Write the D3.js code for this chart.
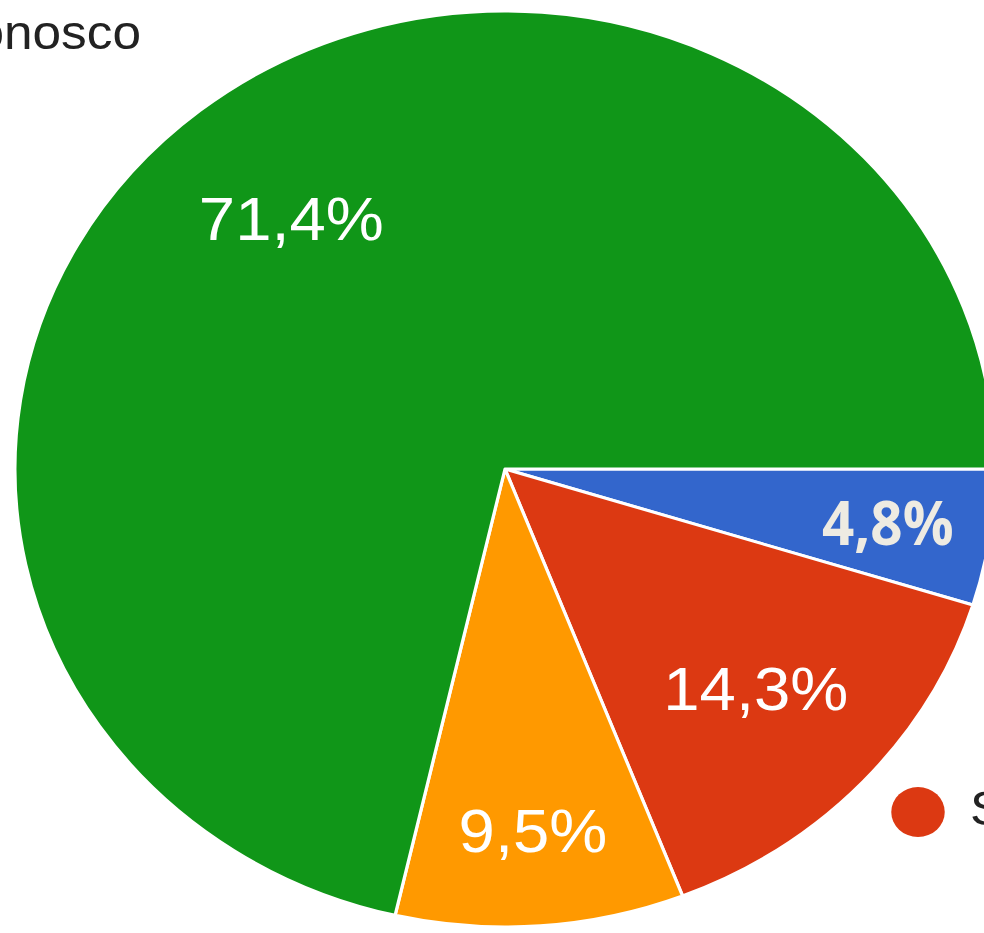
<!DOCTYPE html>
<html>
<head>
<meta charset="utf-8">
<script src="https://cdn.jsdelivr.net/npm/d3@7"></script>
<style>
  html, body { margin: 0; padding: 0; background: #fff; overflow: hidden; }
  svg { display: block; }
</style>
</head>
<body>
<svg id="chart" width="984" height="933"></svg>
<script>
// slice order follows the picture, clockwise from 3 o'clock
const categories = ['No', 'Sì', 'In parte', 'Non conosco'];
const percents = [4.8, 14.3, 9.5, 71.4];
const sliceLabels = ['4,8%', '14,3%', '9,5%', '71,4%'];
const colors = ['#3366cc', '#dc3912', '#ff9900', '#109618'];

const W = 984, H = 933;
const sx = 1.07;            // the picture is stretched a little sideways
const cx = 505, cy = 469, R = 458;

let svg = d3.select('#chart');

let color = d3.scaleOrdinal().domain(categories).range(colors);

let pie = d3.pie()
    .sort(null)
    .value(d => d.value)
    .startAngle(Math.PI / 2)
    .endAngle(Math.PI / 2 + 2 * Math.PI);

let data = categories.map((c, i) => ({ name: c, value: percents[i], label: sliceLabels[i] }));
let arcs = pie(data);

let arc = d3.arc().innerRadius(0).outerRadius(R);
// narrow slices get their label pushed further out
let wideLabelArc = d3.arc().innerRadius(R * 0.70).outerRadius(R * 0.70);
let narrowLabelArc = d3.arc().innerRadius(R * 0.79).outerRadius(R * 0.79);
function labelPos(d) {
    return d.data.value < 10 ? narrowLabelArc.centroid(d) : wideLabelArc.centroid(d);
}

let g = svg.append('g')
    .attr('transform', 'translate(' + cx + ',' + cy + ') scale(' + sx + ',1)');

g.selectAll('path.slice')
    .data(arcs)
    .enter()
    .append('path')
    .attr('class', 'slice')
    .attr('d', arc)
    .attr('fill', d => color(d.data.name))
    .attr('stroke', '#fff')
    .attr('stroke-width', 3)
    .attr('stroke-linejoin', 'round');

// the 4,8% label sits on top as a pasted overlay in another font
g.selectAll('text.pct')
    .data(arcs)
    .enter()
    .append('text')
    .attr('class', 'pct')
    .attr('transform', d => 'translate(' + labelPos(d) + ')')
    .attr('text-anchor', 'middle')
    .attr('dy', '0.36em')
    .attr('font-family', d => d.index == 0 ? '"Open Sans", sans-serif' : '"Liberation Sans", Arial, sans-serif')
    .attr('font-weight', d => d.index == 0 ? 700 : 400)
    .attr('font-size', 61)
    .attr('fill', d => d.index == 0 ? '#eeebe2' : '#ffffff')
    .each(function(d) {
        if (d.index == 0) {
            d3.select(this).attr('textLength', 123).attr('lengthAdjust', 'spacingAndGlyphs');
        }
    })
    .text(d => d.data.label);

// legend, only partly inside the crop
let legend = svg.append('g').attr('transform', 'scale(' + sx + ',1)');

legend.append('text')
    .attr('x', 141 / sx)
    .attr('y', 49)
    .attr('text-anchor', 'end')
    .attr('font-family', '"Liberation Sans", Arial, sans-serif')
    .attr('font-size', 48)
    .attr('fill', '#222')
    .text(categories[3]);

legend.append('circle')
    .attr('cx', 918 / sx)
    .attr('cy', 812)
    .attr('r', 25)
    .attr('fill', color(categories[1]));

legend.append('text')
    .attr('x', 970 / sx)
    .attr('y', 825)
    .attr('font-family', '"Liberation Sans", Arial, sans-serif')
    .attr('font-size', 48)
    .attr('fill', '#222')
    .text(categories[1]);
</script>
</body>
</html>
